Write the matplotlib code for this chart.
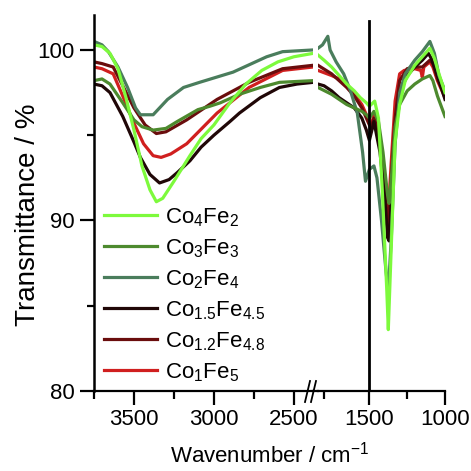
import matplotlib
matplotlib.use('Agg')
import matplotlib.pyplot as plt
from matplotlib.lines import Line2D
from matplotlib.ticker import FixedLocator

plt.rcParams['font.family'] = ['Liberation Sans', 'DejaVu Sans']
plt.rcParams['mathtext.fontset'] = 'custom'
plt.rcParams['mathtext.rm'] = 'Liberation Sans'
plt.rcParams['mathtext.it'] = 'Liberation Sans'
plt.rcParams['mathtext.bf'] = 'Liberation Sans:bold'

# names and colours of the samples
labels = ['Co$_4$Fe$_2$', 'Co$_3$Fe$_3$', 'Co$_2$Fe$_4$',
          'Co$_{1.5}$Fe$_{4.5}$', 'Co$_{1.2}$Fe$_{4.8}$', 'Co$_1$Fe$_5$']
colors = ['#7dfa3c', '#4d8a2e', '#4a7d5c', '#200707', '#6a0d0d', '#d01f1f']

# high wavenumber part (3750 - 2380 cm-1)
wn_hi = {
    'Co4Fe2': [3750, 3700, 3650, 3600, 3550, 3500, 3450, 3400, 3360, 3320, 3250, 3150, 3080, 3000, 2900, 2800, 2700, 2600, 2500, 2380],
    'Co3Fe3': [3750, 3700, 3650, 3570, 3500, 3450, 3380, 3300, 3230, 3100, 3025, 2960, 2840, 2710, 2590, 2380],
    'Co2Fe4': [3750, 3700, 3660, 3600, 3540, 3490, 3460, 3380, 3340, 3290, 3190, 3090, 2880, 2670, 2570, 2380],
    'Co1.5Fe4.5': [3750, 3700, 3650, 3570, 3500, 3460, 3400, 3340, 3280, 3230, 3150, 3080, 3000, 2900, 2840, 2710, 2590, 2480, 2380],
    'Co1.2Fe4.8': [3750, 3700, 3630, 3570, 3500, 3430, 3360, 3300, 3170, 2980, 2780, 2570, 2380],
    'Co1Fe5': [3750, 3700, 3630, 3570, 3500, 3440, 3380, 3330, 3270, 3170, 2980, 2780, 2570, 2380],
}
t_hi = {
    'Co4Fe2': [100.3, 100.2, 99.8, 98.9, 97.2, 95.3, 93.2, 91.8, 91.1, 91.3, 92.3, 93.8, 94.8, 95.6, 96.9, 98.0, 98.8, 99.3, 99.6, 99.8],
    'Co3Fe3': [98.2, 98.3, 98.0, 96.9, 95.9, 95.5, 95.3, 95.4, 95.8, 96.5, 96.7, 96.9, 97.4, 97.8, 98.1, 98.2],
    'Co2Fe4': [100.5, 100.3, 99.9, 99.0, 97.8, 96.6, 96.2, 96.2, 96.6, 97.1, 97.8, 98.1, 98.7, 99.6, 99.9, 100.0],
    'Co1.5Fe4.5': [98.0, 97.9, 97.5, 96.1, 94.6, 93.7, 92.7, 92.2, 92.4, 92.8, 93.5, 94.3, 95.0, 95.8, 96.3, 97.2, 97.8, 98.0, 98.1],
    'Co1.2Fe4.8': [99.3, 99.2, 99.0, 97.9, 96.6, 95.6, 95.1, 95.2, 95.9, 97.1, 98.1, 98.9, 99.1],
    'Co1Fe5': [99.0, 98.9, 98.6, 97.3, 95.7, 94.5, 93.8, 93.7, 93.9, 94.5, 96.3, 97.8, 98.8, 99.0],
}

# low wavenumber part (1840 - 1000 cm-1)
wn_lo = {
    'Co4Fe2': [1840, 1800, 1750, 1700, 1650, 1600, 1560, 1520, 1500, 1465, 1440, 1415, 1385, 1375, 1350, 1330, 1300, 1263, 1200, 1150, 1100, 1070, 1040, 1000],
    'Co3Fe3': [1840, 1750, 1700, 1650, 1600, 1550, 1520, 1500, 1470, 1440, 1410, 1380, 1370, 1350, 1330, 1300, 1250, 1200, 1150, 1100, 1080, 1050, 1000],
    'Co2Fe4': [1840, 1810, 1775, 1760, 1720, 1670, 1625, 1580, 1545, 1526, 1500, 1470, 1450, 1420, 1390, 1375, 1355, 1330, 1300, 1263, 1200, 1150, 1100, 1070, 1040, 1000],
    'Co1.5Fe4.5': [1840, 1800, 1750, 1700, 1650, 1600, 1550, 1520, 1500, 1470, 1430, 1400, 1380, 1370, 1350, 1330, 1300, 1250, 1200, 1150, 1110, 1090, 1050, 1000],
    'Co1.2Fe4.8': [1840, 1750, 1700, 1650, 1600, 1550, 1510, 1490, 1470, 1440, 1410, 1375, 1355, 1330, 1300, 1250, 1200, 1150, 1100, 1080, 1050, 1000],
    'Co1Fe5': [1840, 1750, 1700, 1650, 1600, 1550, 1510, 1490, 1470, 1440, 1410, 1375, 1355, 1330, 1300, 1270, 1200, 1160, 1150, 1140, 1100, 1080, 1050, 1000],
}
t_lo = {
    'Co4Fe2': [99.7, 99.4, 99.0, 98.5, 98.0, 97.6, 97.2, 96.9, 96.7, 97.0, 96.0, 91.8, 85.9, 83.6, 89.8, 94.6, 96.8, 98.2, 99.1, 99.6, 100.1, 99.5, 98.6, 97.5],
    'Co3Fe3': [97.8, 97.4, 97.1, 96.8, 96.6, 96.4, 96.2, 96.0, 96.4, 95.8, 94.0, 91.5, 91.0, 93.0, 95.5, 96.8, 97.6, 98.0, 98.3, 98.5, 98.2, 97.3, 96.1],
    'Co2Fe4': [100.1, 100.3, 100.8, 100.0, 99.3, 98.6, 97.6, 96.3, 94.0, 92.3, 93.0, 93.2, 92.5, 90.0, 87.0, 85.8, 89.0, 94.5, 97.5, 98.6, 99.4, 99.9, 100.5, 99.8, 98.5, 97.6],
    'Co1.5Fe4.5': [98.0, 97.9, 97.6, 97.2, 96.9, 96.6, 96.0, 95.3, 94.7, 95.8, 94.0, 91.5, 89.0, 88.8, 92.0, 95.0, 97.5, 98.5, 99.0, 99.4, 99.8, 99.5, 98.5, 97.1],
    'Co1.2Fe4.8': [99.1, 98.6, 98.2, 97.8, 97.3, 96.6, 95.8, 95.4, 96.0, 95.2, 93.0, 89.5, 92.5, 96.0, 98.2, 98.9, 99.0, 99.0, 99.4, 99.2, 98.3, 97.3],
    'Co1Fe5': [98.8, 98.5, 98.3, 98.0, 97.4, 96.8, 96.0, 95.5, 96.2, 95.5, 93.5, 90.5, 93.5, 97.0, 98.6, 98.8, 98.9, 98.8, 98.4, 99.0, 99.3, 99.0, 98.2, 97.2],
}
keys = ['Co4Fe2', 'Co3Fe3', 'Co2Fe4', 'Co1.5Fe4.5', 'Co1.2Fe4.8', 'Co1Fe5']

W = 471.0
fig = plt.figure(figsize=(4.71, 4.71), dpi=100)
ax1 = fig.add_axes([94 / W, 1 - 391 / W, 219 / W, 376 / W])
ax2 = fig.add_axes([318 / W, 1 - 391 / W, 127 / W, 376 / W])

# draw in reverse so the light green one ends on top
for k, lab, c in reversed(list(zip(keys, labels, colors))):
    ax1.plot(wn_hi[k], t_hi[k], color=c, lw=2.3, label=lab)
    ax2.plot(wn_lo[k], t_lo[k], color=c, lw=2.3)

ax2.axvline(1500, ymin=0, ymax=0.985, color='black', lw=2.0)

for ax in (ax1, ax2):
    ax.set_ylim(80, 102.05)
    ax.spines['top'].set_visible(False)
    ax.spines['right'].set_visible(False)
    ax.spines['bottom'].set_linewidth(1.6)
    ax.tick_params(axis='x', which='major', direction='out', length=10, width=1.6, labelsize=16, pad=3)
    ax.tick_params(axis='x', which='minor', direction='out', length=6, width=1.6)

ax1.set_xlim(3750, 2380)
ax1.set_xticks([3500, 3000, 2500])
ax1.xaxis.set_minor_locator(FixedLocator([3750, 3250, 2750]))
ax1.set_yticks([80, 90, 100])
ax1.yaxis.set_minor_locator(FixedLocator([85, 95]))
ax1.spines['left'].set_linewidth(1.8)
ax1.tick_params(axis='y', which='major', direction='out', length=10, width=1.6, labelsize=16, pad=4)
ax1.tick_params(axis='y', which='minor', direction='out', length=5, width=1.6)

ax2.set_xlim(1840, 1000)
ax2.set_xticks([1500, 1000])
ax2.xaxis.set_minor_locator(FixedLocator([1800, 1250]))
ax2.spines['left'].set_visible(False)
ax2.tick_params(axis='y', which='both', left=False, labelleft=False)

# axis line across the break and the // marks
yb = 1 - 391 / W
fig.add_artist(Line2D([313 / W, 318 / W], [yb, yb], color='black', lw=1.6))
for x0 in (305, 311):
    fig.add_artist(Line2D([x0 / W, (x0 + 5) / W], [1 - 402 / W, 1 - 381 / W], color='black', lw=1.3))

fig.text(270 / W, 1 - 455 / W, 'Wavenumber / cm$^{-1}$', ha='center', va='center', fontsize=16)
fig.text(28 / W, 1 - 215 / W, 'Transmittance / %', ha='center', va='center', rotation=90, fontsize=20)

h, l = ax1.get_legend_handles_labels()
leg = ax1.legend(h[::-1], l[::-1], loc='upper left', bbox_to_anchor=(104 / W, 1 - 206 / W),
                 bbox_transform=fig.transFigure, frameon=False, fontsize=16,
                 handlelength=2.4, handletextpad=0.35, labelspacing=0.38, borderpad=0, borderaxespad=0)

fig.savefig('out.png', dpi=100)
